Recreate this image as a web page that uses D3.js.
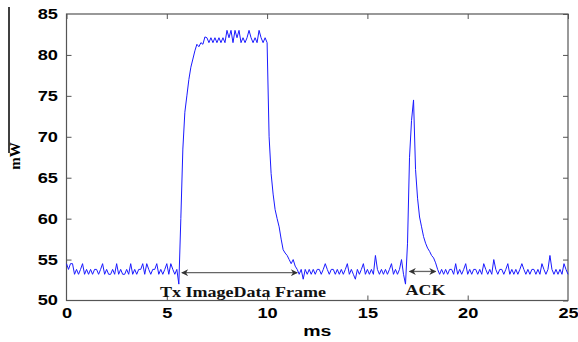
<!DOCTYPE html>
<html>
<head>
<meta charset="utf-8">
<script src="https://cdn.jsdelivr.net/npm/d3@7"></script>
<style>
  body { margin: 0; background: #fff; }
  svg { display: block; }
  .tick text { font-family: "Liberation Sans", Arial, sans-serif; font-weight: bold; font-size: 14px; fill: #000; }
  .note { font-family: "Liberation Serif", "Times New Roman", serif; font-weight: bold; font-size: 15px; fill: #111; }
</style>
</head>
<body>
<div id="chart"></div>
<script>
// sampled every 0.1 ms, one row per ms
const step = 0.1;
const power = [
  54.5, 53.8, 54.5, 54.5, 53.2, 53.8, 53.2, 53.8, 54.5, 53.2,
  53.8, 53.2, 53.8, 53.2, 53.8, 53.8, 53.2, 53.8, 54.5, 53.2,
  53.8, 53.2, 53.2, 53.8, 53.2, 54.5, 53.2, 53.8, 53.2, 53.2,
  53.8, 53.2, 54.5, 53.2, 53.8, 53.2, 53.8, 53.8, 54.5, 53.2,
  54.5, 53.8, 53.2, 53.8, 53.8, 54.5, 53.2, 53.8, 53.2, 53.8,
  54.5, 53.2, 54.5, 53.8, 53.2, 53.8, 52.0, 60.0, 68.5, 73.0,
  75.0, 77.0, 78.5, 79.5, 80.5, 81.3, 81.0, 81.5, 81.3, 82.2,
  82.1, 81.5, 82.1, 81.5, 82.1, 81.5, 82.1, 81.5, 82.1, 81.5,
  83.0, 82.1, 83.0, 81.5, 83.0, 82.1, 83.0, 81.5, 82.1, 81.5,
  82.1, 83.0, 82.1, 81.5, 82.1, 81.5, 83.0, 82.1, 81.5, 82.1,
  81.5, 70.0, 65.5, 63.0, 61.1, 60.0, 59.0, 57.5, 56.2, 55.8,
  55.5, 55.0, 54.5, 55.0, 54.2, 53.8, 53.2, 53.8, 52.6, 53.8,
  53.2, 53.8, 53.2, 53.8, 53.2, 53.8, 53.8, 53.2, 53.8, 54.5,
  53.8, 53.2, 53.8, 53.8, 53.2, 53.8, 53.2, 53.8, 53.2, 53.8,
  54.5, 53.2, 53.8, 53.2, 52.6, 53.8, 53.2, 53.8, 54.5, 53.2,
  53.8, 53.2, 53.8, 53.2, 55.5, 53.8, 53.2, 53.8, 53.2, 53.8,
  53.2, 53.8, 54.5, 53.2, 53.8, 53.2, 53.8, 55.0, 53.2, 52.0,
  57.0, 67.5, 72.0, 74.5, 66.0, 62.5, 60.2, 59.0, 57.8, 57.0,
  56.4, 56.0, 55.5, 55.2, 54.6, 53.8, 53.2, 53.8, 53.2, 53.8,
  53.2, 53.8, 53.8, 53.2, 54.5, 53.2, 53.8, 53.2, 53.8, 54.5,
  53.2, 53.8, 53.2, 53.8, 53.8, 53.2, 53.8, 53.2, 54.5, 53.8,
  53.2, 53.8, 53.2, 55.0, 53.8, 53.2, 53.8, 53.8, 53.2, 53.8,
  54.5, 53.2, 53.8, 53.2, 53.8, 53.2, 53.8, 54.5, 53.8, 53.2,
  53.8, 53.2, 53.8, 53.8, 53.2, 53.8, 53.2, 54.5, 53.8, 53.2,
  53.8, 55.5, 53.8, 53.2, 53.8, 53.2, 53.8, 53.2, 54.5, 53.8,
  53.2
];
const xTicks = [0, 5, 10, 15, 20, 25];
const yTicks = [50, 55, 60, 65, 70, 75, 80, 85];

// double arrows: [from ms, to ms, level mW], label centre [ms, mW]
const spans = [
  { label: 'Tx ImageData Frame', from: 5.75, to: 11.5, y: 53.4, tx: 8.8, ty: 50.45 },
  { label: 'ACK', from: 17.1, to: 18.4, y: 53.55, tx: 17.9, ty: 50.7 }
];

const W = 578, H = 342;
const margin = { top: 14, right: 10, bottom: 41.5, left: 66.5 };

const svg = d3.select('#chart').append('svg')
  .attr('width', W)
  .attr('height', H);

const x = d3.scaleLinear().domain([0, 25]).range([margin.left, W - margin.right]);
const y = d3.scaleLinear().domain([50, 85]).range([H - margin.bottom, margin.top]);

// stretch text sideways like the source picture
function stretch(sel, k) {
  sel.each(function() {
    const w = this.getComputedTextLength();
    d3.select(this).attr('textLength', w * k).attr('lengthAdjust', 'spacingAndGlyphs');
  });
}

const axisColor = '#555';

const gx = svg.append('g')
  .attr('transform', `translate(0,${y(50)})`)
  .call(d3.axisBottom(x).tickValues(xTicks).tickSize(-5).tickPadding(8).tickFormat(d3.format('d')));
const gxTop = svg.append('g')
  .attr('transform', `translate(0,${y(85)})`)
  .call(d3.axisTop(x).tickValues(xTicks).tickSize(-5).tickFormat(''));
const gy = svg.append('g')
  .attr('transform', `translate(${x(0)},0)`)
  .call(d3.axisLeft(y).tickValues(yTicks).tickSize(-5).tickPadding(8.5).tickFormat(d3.format('d')));
const gyRight = svg.append('g')
  .attr('transform', `translate(${x(25)},0)`)
  .call(d3.axisRight(y).tickValues(yTicks).tickSize(-5).tickFormat(''));

[gx, gxTop, gy, gyRight].forEach(g => {
  g.select('.domain').remove();
  g.selectAll('.tick line').attr('stroke', axisColor);
});
gx.selectAll('.tick').filter(d => d === 0 || d === 25).select('line').remove();
gy.selectAll('.tick').filter(d => d === 50 || d === 85).select('line').remove();
stretch(gx.selectAll('.tick text'), 1.3);
stretch(gy.selectAll('.tick text'), 1.3);

svg.append('rect')
  .attr('x', x(0))
  .attr('y', y(85))
  .attr('width', x(25) - x(0))
  .attr('height', y(50) - y(85))
  .attr('fill', 'none')
  .attr('stroke', axisColor)
  .attr('stroke-width', 1.2);

// signal
const line = d3.line()
  .x((d, i) => x(i * step))
  .y(d => y(d));

svg.append('path')
  .datum(power)
  .attr('fill', 'none')
  .attr('stroke', '#1a1aff')
  .attr('stroke-width', 1)
  .attr('d', line);

// annotations
const defs = svg.append('defs');
defs.append('marker')
  .attr('id', 'head')
  .attr('viewBox', '0 0 10 10')
  .attr('refX', 9)
  .attr('refY', 5)
  .attr('markerWidth', 9)
  .attr('markerHeight', 7)
  .attr('markerUnits', 'userSpaceOnUse')
  .attr('orient', 'auto-start-reverse')
  .append('path')
  .attr('d', 'M0,0 L10,5 L0,10 L3,5 Z')
  .attr('fill', '#333');

svg.selectAll('.span')
  .data(spans)
  .enter().append('line')
  .attr('class', 'span')
  .attr('x1', d => x(d.from))
  .attr('x2', d => x(d.to))
  .attr('y1', d => y(d.y))
  .attr('y2', d => y(d.y))
  .attr('stroke', '#666')
  .attr('stroke-width', 1.3)
  .attr('marker-start', 'url(#head)')
  .attr('marker-end', 'url(#head)');

const notes = svg.selectAll('.note')
  .data(spans)
  .enter().append('text')
  .attr('class', 'note')
  .attr('x', d => x(d.tx))
  .attr('y', d => y(d.ty))
  .attr('text-anchor', 'middle')
  .text(d => d.label);
stretch(notes, 1.2);

// axis titles
const xt = svg.append('text')
  .attr('x', (x(0) + x(25)) / 2)
  .attr('y', 336)
  .attr('text-anchor', 'middle')
  .style('font-family', '"Liberation Sans", Arial, sans-serif')
  .style('font-weight', 'bold')
  .style('font-size', '15px')
  .text('ms');
stretch(xt, 1.3);

const yt = svg.append('text')
  .attr('transform', 'translate(20,156) rotate(-90)')
  .attr('text-anchor', 'middle')
  .style('font-family', '"Liberation Serif", "Times New Roman", serif')
  .style('font-weight', 'bold')
  .style('font-size', '15px')
  .text('mW');

svg.append('line')
  .attr('x1', 9).attr('x2', 9)
  .attr('y1', 7).attr('y2', 153)
  .attr('stroke', '#000')
  .attr('stroke-width', 1.5);
</script>
</body>
</html>
